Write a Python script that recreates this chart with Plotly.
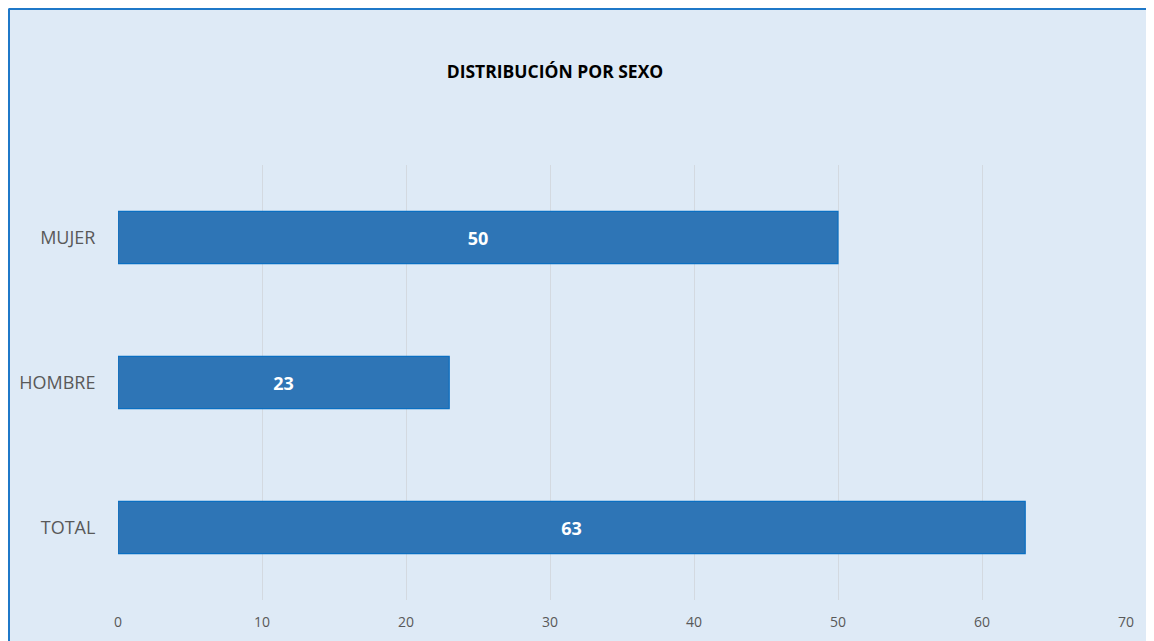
import plotly.graph_objects as go

categories = ["TOTAL", "HOMBRE", "MUJER"]
values = [63, 23, 50]
x_ticks = [0, 10, 20, 30, 40, 50, 60, 70]
title = "DISTRIBUCIÓN POR SEXO"

OFF = 8  # page body margin
W, H = 1154 - OFF, 641 - OFF
L, R, T, B = 118 - OFF, 28, 165 - OFF, 41
pw, ph = W - L - R, H - T - B

def px_x(p):
    return (p - OFF - L) / pw

def px_y(p):
    return 1 - (p - OFF - T) / ph

fig = go.Figure()
fig.add_trace(go.Bar(
    y=categories, x=values, orientation="h",
    marker=dict(color="#2E75B6", line=dict(color="#0A6FC2", width=1.2)),
    width=0.36,
    text=[str(v) for v in values],
    textposition="inside", insidetextanchor="middle",
    textfont=dict(color="white", size=18, family="Open Sans"),
    texttemplate="<b>%{text}</b>",
    hoverinfo="skip",
))

# visible left/top border of the chart area
fig.add_shape(type="line", xref="paper", yref="paper",
              x0=px_x(9), x1=px_x(9), y0=px_y(700), y1=px_y(8.5),
              line=dict(color="#1F78C8", width=2), layer="below")
fig.add_shape(type="line", xref="paper", yref="paper",
              x0=px_x(9), x1=px_x(1200), y0=px_y(9), y1=px_y(9),
              line=dict(color="#1F78C8", width=2), layer="below")

fig.update_layout(
    width=W, height=H,
    margin=dict(l=L, r=R, t=T, b=B),
    paper_bgcolor="#DEEAF6",
    plot_bgcolor="rgba(0,0,0,0)",
    showlegend=False,
    font=dict(family="Open Sans", color="#595959"),
    title=dict(text="<b>" + title + "</b>", x=(555 - OFF) / W, xanchor="center",
               y=1 - (72 - OFF) / H, yanchor="middle",
               font=dict(size=17.5, color="black", family="Open Sans")),
    xaxis=dict(range=[0, 70], tickvals=x_ticks, showgrid=True, gridcolor="#D3D9E0",
               gridwidth=1, zeroline=False, showline=False, automargin=False,
               ticks="outside", ticklen=9, tickcolor="rgba(0,0,0,0)",
               tickfont=dict(size=14, color="#595959"), fixedrange=True),
    yaxis=dict(range=[-0.5, 2.5], showgrid=False, zeroline=False, showline=False,
               automargin=False,
               ticks="outside", ticklen=18, tickcolor="rgba(0,0,0,0)",
               tickfont=dict(size=18, color="#595959"), fixedrange=True),
)

fig.write_html(
    "out.html",
    post_script="document.documentElement.style.overflow='hidden';"
                "document.body.style.overflow='hidden';",
)
